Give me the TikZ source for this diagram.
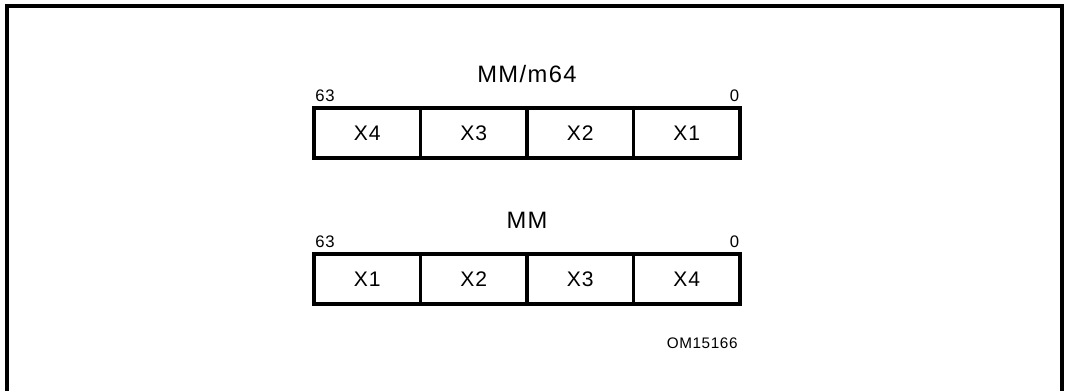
\documentclass[tikz,border=0pt]{standalone}
\usepackage{fontspec}
\setmainfont{Liberation Sans}
\usetikzlibrary{positioning}
\tikzset{
  frame/.style={line width=1.8pt},
  cell/.style={draw, line width=2pt, outer sep=0pt, inner sep=0pt,
    minimum width=2.13cm, minimum height=1.0cm,
    font=\fontsize{12}{14}\selectfont\addfontfeature{LetterSpace=5}},
  bitlbl/.style={font=\fontsize{9.5}{11}\selectfont\addfontfeature{LetterSpace=4}, inner sep=0pt},
  figlbl/.style={font=\fontsize{8.7}{10}\selectfont\addfontfeature{LetterSpace=4}, inner sep=0pt},
  reglbl/.style={font=\fontsize{13.5}{16}\selectfont\addfontfeature{LetterSpace=6}, inner sep=0pt},
}
\begin{document}
\begin{tikzpicture}[x=0.02cm, y=-0.02cm, node distance=0cm and 0cm]
\useasboundingbox (0,0) rectangle (1066,391);

% outer frame
\draw[frame] (7,6) rectangle (1062,420);

%% SOURCE REGISTER
\node[cell] (srcA) at (367.25,133) {X4};
\node[cell, right=of srcA] (srcB) {X3};
\node[cell, right=of srcB] (srcC) {X2};
\node[cell, right=of srcC] (srcD) {X1};
\node[bitlbl, above=0.12cm of srcA.north west, anchor=south west, xshift=0.02cm] (srcHi) {63};
\node[bitlbl, above=0.12cm of srcD.north east, anchor=south east, xshift=-0.01cm] (srcLo) {0};
\node[reglbl, above=0.5cm of srcB.north east] (srcName) {MM/m64};

%% DESTINATION REGISTER
\node[cell] (dstA) at (367.25,279) {X1};
\node[cell, right=of dstA] (dstB) {X2};
\node[cell, right=of dstB] (dstC) {X3};
\node[cell, right=of dstC] (dstD) {X4};
\node[bitlbl, above=0.12cm of dstA.north west, anchor=south west, xshift=0.02cm] (dstHi) {63};
\node[bitlbl, above=0.12cm of dstD.north east, anchor=south east, xshift=-0.01cm] (dstLo) {0};
\node[reglbl, above=0.5cm of dstB.north east] (dstName) {MM};

% figure id
\node[figlbl, below=0.66cm of dstD.south east, anchor=north east, xshift=-0.04cm] (figId) {OM15166};

\end{tikzpicture}
\end{document}
